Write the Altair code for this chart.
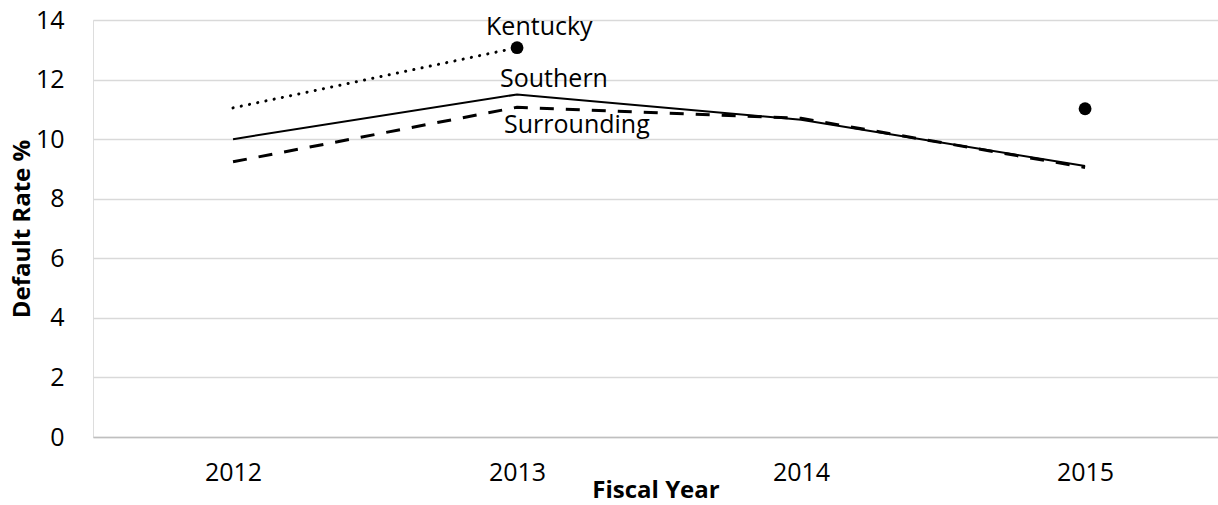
import altair as alt
import pandas as pd

years = [2012, 2013, 2014, 2015]
kentucky = [11.05, 13.07, None, 11.02]
southern = [10.0, 11.5, 10.65, 9.1]
surrounding = [9.24, 11.07, 10.7, 9.05]

df = pd.DataFrame({"year": years, "Kentucky": kentucky, "Southern": southern, "Surrounding": surrounding})

FONT = "Open Sans"
LBL = 25

x = alt.X("year:Q",
          scale=alt.Scale(domain=[2011.507, 2015.468], nice=False, zero=False),
          axis=alt.Axis(values=years, format="d", title="Fiscal Year", grid=False,
                        ticks=False, domainColor="#bfbfbf", domainWidth=1.5,
                        labelFontSize=LBL, labelColor="#000000", labelPadding=23,
                        titleFontSize=24, titleFontWeight="bold", titleColor="#000000",
                        titlePadding=-7, labelFont=FONT, titleFont=FONT))
y_axis = alt.Axis(values=[0, 2, 4, 6, 8, 10, 12, 14], title="Default Rate %", grid=True,
                  gridColor="#d9d9d9", gridWidth=1.5, domain=False, ticks=False,
                  labelFontSize=LBL, labelColor="#000000", labelPadding=29,
                  titleFontSize=24, titleFontWeight="bold", titleColor="#000000",
                  titleX=-59, labelFont=FONT, titleFont=FONT)
yscale = alt.Scale(domain=[0, 14], nice=False)

base = alt.Chart(df)

ky_line = base.mark_line(color="black", strokeWidth=3, strokeDash=[0.1, 8.3], strokeCap="round",
                         invalid="break-paths-filter-domains").encode(
    x=x, y=alt.Y("Kentucky:Q", scale=yscale, axis=y_axis))
ky_pts = base.transform_filter("datum.year == 2013 || datum.year == 2015").mark_point(
    filled=True, color="black", size=165, opacity=1).encode(x="year:Q", y="Kentucky:Q")
so_line = base.mark_line(color="black", strokeWidth=2).encode(x="year:Q", y="Southern:Q")
su_line = base.mark_line(color="black", strokeWidth=3, strokeDash=[14, 12]).encode(
    x="year:Q", y="Surrounding:Q")

lab = base.transform_filter("datum.year == 2013")
ky_lab = lab.mark_text(text="Kentucky", font=FONT, fontSize=LBL, align="left", dx=-31, dy=-21,
                       color="black").encode(x="year:Q", y="Kentucky:Q")
so_lab = lab.mark_text(text="Southern", font=FONT, fontSize=LBL, align="left", dx=-17, dy=-15,
                       color="black").encode(x="year:Q", y="Southern:Q")
su_lab = lab.mark_text(text="Surrounding", font=FONT, fontSize=LBL, align="left", dx=-13, dy=18,
                       color="black").encode(x="year:Q", y="Surrounding:Q")

chart = alt.layer(ky_line, so_line, su_line, ky_pts, ky_lab, so_lab, su_lab).properties(
    width=1125, height=417,
    autosize=alt.AutoSizeParams(type="none"),
    padding={"left": 93, "top": 20, "right": 0, "bottom": 68},
).configure_view(stroke=None).configure(background="white")

chart.save("out.html", embed_options={"renderer": "svg", "actions": False})
